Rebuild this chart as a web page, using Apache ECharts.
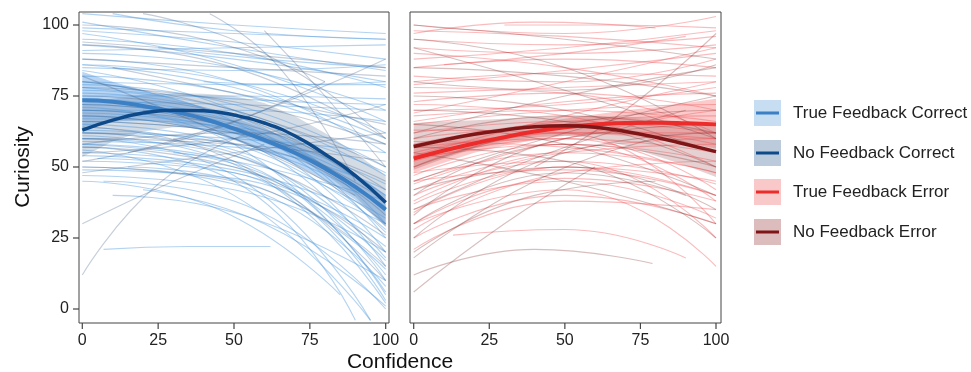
<!DOCTYPE html>
<html><head><meta charset="utf-8">
<script src="https://cdn.jsdelivr.net/npm/echarts@6/dist/echarts.min.js"></script>
<style>html,body{margin:0;padding:0;background:#fff}#c{width:971px;height:372px}</style>
</head><body><div id="c"></div>
<script>
// ---- axis ranges / ticks ----
const axisMin = 0, axisMax = 100, tickStep = 25;
const xTicks = [0, 25, 50, 75, 100];
const yTicks = [0, 25, 50, 75, 100];
const legendNames = ['True Feedback Correct', 'No Feedback Correct', 'True Feedback Error', 'No Feedback Error'];

// ---- fitted means and confidence bands (read at confidence = 0,10,...,100) ----
const bandX = [0, 10, 20, 30, 40, 50, 60, 70, 80, 90, 100];
const tfcMean = [73.5, 73, 71.5, 69.5, 67, 63.5, 59.5, 55, 49.5, 43, 35];
const tfcLo   = [64, 66, 66.5, 65.5, 63, 59.5, 55.5, 51, 45.5, 38.5, 29];
const tfcHi   = [83.5, 80, 77, 74, 71, 67.5, 63.5, 59, 53.5, 47.5, 40];
const nfcMean = [63, 66.5, 69, 70, 69.8, 68.3, 65.5, 61, 54.5, 47, 37.5];
const nfcLo   = [53.5, 59, 62.5, 64, 64, 62, 58.5, 54, 47.5, 39.5, 29];
const nfcHi   = [72.5, 74, 75.5, 76, 75.8, 75, 72.5, 68, 62, 55, 47];
const tfeMean = [53, 55.8, 58.3, 60.5, 62.5, 64, 65, 65.5, 65.6, 65.4, 65];
const tfeLo   = [48, 51.5, 55, 57.5, 59.5, 61, 61.5, 61, 60, 58.5, 56.5];
const tfeHi   = [58, 60, 62, 63.5, 65.5, 67, 68.5, 70, 71, 72.5, 74];
const nfeMean = [57.2, 59.5, 61.5, 63, 64.2, 64.5, 64, 62.5, 60.5, 58, 55.4];
const nfeLo   = [49, 53, 56.5, 59, 60.5, 61, 60, 57.5, 54, 50.5, 46.5];
const nfeHi   = [65.5, 66, 66.5, 67, 67.5, 68, 68, 67.5, 67, 65.5, 64];

// ---- individual participant curves: [x0,y0, x1,y1, x2,y2] ----
const tfcLines = [
[0,104,50,100,100,97],[0,99,50,97,100,95],[0,98,50,94,100,88],[0,93,50,88,100,80],[0,90,50,85,100,70],
[0,86,50,80,100,62],[0,80,50,79,100,79],[0,78,50,74,100,72],[0,84,50,70,100,40],[0,79,50,72,100,50],
[0,76,50,68,100,30],[0,74,50,66,100,25],[0,72,50,65,100,35],[0,70,50,62,100,20],[0,68,50,60,100,15],
[0,66,50,62,100,40],[0,65,50,58,100,28],[0,62,50,55,100,10],[0,60,50,54,100,18],[0,58,50,52,100,5],
[0,55,50,50,100,12],[0,52,50,48,100,3],[0,50,50,44,100,8],[0,49,50,46,100,22],[7,45,50,38,100,0],
[0,56,50,40,95,-4],[20,42,60,30,100,1],[7,21,35,22,62,22],[0,88,50,80,100,55],[0,95,50,90,100,78],
[0,101,50,92,100,84],[10,104,50,98,100,95],[0,75,50,75,100,74],[0,73,50,72,100,70],[0,62,50,60,100,55],
[0,58,50,52,100,38],[0,64,50,56,100,32],[5,53,50,48,100,25],[0,45,45,35,85,5],[15,50,55,44,100,14],
[0,69,50,63,100,44],[0,77,50,70,100,47],[25,92,60,88,100,85],[0,71,50,58,100,6],[0,60,50,47,95,-4],
[30,55,65,45,100,17],[0,86,50,78,100,60],[0,97,50,86,100,66],[0,80,50,66,100,27],[0,67,50,64,100,48],
[0,63,50,58,100,36],[0,54,50,49,100,30],[0,59,50,57,100,42],[0,82,50,76,100,58],[0,91,50,92,100,93],
[0,70,50,70,100,66],[0,61,50,51,100,2],[0,57,50,45,90,-4],[10,40,50,34,100,10],[0,47,50,42,100,20],
[40,80,70,79,100,80],[0,85,50,84,100,86]
];
const nfcLines = [
[0,12,25,44,55,62],[0,30,30,45,60,58],[0,93,50,85,100,60],[0,100,40,95,80,80],[20,104,60,90,100,60],
[42,104,65,85,90,45],[0,66,50,62,100,45],[0,60,50,58,100,52],[0,55,50,60,100,72],[0,52,40,62,80,80],
[0,70,50,64,100,35],[0,75,50,68,100,38],[0,64,50,52,100,10],[0,57,50,50,100,20],[0,88,50,85,100,82],
[10,85,55,75,100,65],[0,48,50,55,100,62],[60,98,80,75,100,50],[0,80,50,70,100,50],[0,62,50,54,100,26],
[0,68,50,60,100,30],[20,70,60,60,100,38],[0,82,50,60,90,40],[0,94,50,90,100,85],[0,58,50,62,100,58],
[15,55,55,68,100,88],[0,72,50,66,100,42],[0,50,50,45,100,15],[30,60,65,55,100,33],[0,78,50,73,100,58]
];
const tfeLines = [
[0,100,50,97,100,103],[0,97,40,101,80,99],[0,95,50,93,100,96],[0,92,50,90,100,93],[0,88,50,92,100,98],
[0,85,50,88,100,85],[0,82,50,80,100,88],[0,79,50,84,100,90],[0,76,50,78,100,80],[0,73,50,76,100,70],
[0,70,50,72,100,78],[0,68,50,70,100,66],[0,65,50,70,100,72],[0,62,50,66,100,62],[0,60,50,64,100,58],
[0,58,50,66,100,68],[0,55,50,62,100,60],[0,52,50,60,100,55],[0,50,50,62,100,62],[0,47,50,58,100,52],
[0,45,50,55,100,48],[0,42,50,56,100,60],[0,40,50,52,100,44],[0,37,50,50,100,45],[0,34,50,50,100,40],
[0,30,50,46,100,38],[0,28,50,48,100,52],[0,25,50,40,100,30],[0,21,50,38,100,35],[13,26,50,28,90,18],
[0,30,50,42,100,15],[0,90,50,85,100,75],[0,80,50,83,100,82],[0,72,50,68,100,50],[0,63,50,62,100,30],
[0,57,50,60,100,42],[0,44,50,60,100,70],[0,38,50,55,100,58],[10,86,50,90,90,96],[30,100,65,100,100,99],
[0,98,50,96,100,92],[0,53,50,58,100,38],[0,48,50,52,100,25],[0,35,50,45,100,32],[0,66,50,73,100,76],
[0,78,50,76,100,62],[0,59,50,57,100,48],[0,45,50,49,100,40],[0,69,50,80,100,92],[0,54,50,68,100,80]
];
const nfeLines = [
[0,12,40,21,79,16],[0,6,30,30,60,50],[0,18,40,45,80,60],[0,25,50,55,100,62],[0,33,50,60,100,65],
[0,40,50,58,100,50],[0,95,50,85,100,60],[0,92,50,77,100,60],[0,85,50,82,100,75],[0,70,50,66,100,50],
[0,60,50,68,100,62],[0,50,50,65,100,70],[0,45,50,62,100,75],[40,50,70,70,100,97],[0,57,50,52,100,25],
[0,65,50,58,100,40],[0,75,50,70,100,55],[0,80,50,77,100,86],[0,30,50,48,90,40],[0,55,50,45,100,30],
[0,62,50,75,100,85],[0,20,40,40,80,45],[0,100,50,95,100,88],[0,42,50,50,100,35],[0,35,45,55,90,70]
];

const FONT = 'Liberation Sans, Arial, sans-serif';
const chart = echarts.init(document.getElementById('c'), null, {renderer: 'canvas'});

const C = {
  tfcThin: 'rgba(75,150,220,0.42)', nfcThin: 'rgba(60,90,130,0.30)',
  tfeThin: 'rgba(238,70,75,0.36)', nfeThin: 'rgba(125,40,40,0.30)',
  tfcBand: 'rgba(100,165,230,0.45)', nfcBand: 'rgba(85,115,155,0.26)',
  tfeBand: 'rgba(245,80,80,0.30)', nfeBand: 'rgba(150,70,70,0.25)',
  tfc: '#3b7fc4', nfc: '#0e4a8a', tfe: '#ec2b2b', nfe: '#7e1517',
  tfcKey: '#c6ddf2', nfcKey: '#bccbdc', tfeKey: '#f9c8c8', nfeKey: '#dcbcbc',
  axis: '#444444'
};
const X_OFFSET = 14, Y_OFFSET = 3.3, TICK_LEN = 6;

function thin(lines, color, ax) {
  return lines.map(l => ({
    type: 'line', xAxisIndex: ax, yAxisIndex: ax, silent: true, smooth: true,
    symbol: 'none', showSymbol: false, clip: false,
    data: [[l[0], l[1]], [l[2], l[3]], [l[4], l[5]]],
    lineStyle: {color: color, width: 1.1}
  }));
}
function band(lo, hi, color, ax) {
  return {
    type: 'custom', xAxisIndex: ax, yAxisIndex: ax, silent: true,
    data: [[bandX[0], lo[0]]],
    renderItem: function (p, api) {
      const pts = [];
      for (let i = 0; i < bandX.length; i++) pts.push(api.coord([bandX[i], hi[i]]));
      for (let i = bandX.length - 1; i >= 0; i--) pts.push(api.coord([bandX[i], lo[i]]));
      return {type: 'polygon', shape: {points: pts}, style: {fill: color}};
    }
  };
}
function mean(vals, color, width, ax) {
  return {
    type: 'line', xAxisIndex: ax, yAxisIndex: ax, silent: true, smooth: true,
    symbol: 'none', showSymbol: false, clip: false,
    data: bandX.map((x, i) => [x, vals[i]]),
    lineStyle: {color: color, width: width}
  };
}
// axis tick marks, placed through the axes' scales, on the panel frame edge
function xTickSeries(ax) {
  return {
    type: 'custom', xAxisIndex: ax, yAxisIndex: ax, silent: true, clip: false,
    data: xTicks.map(v => [v, axisMin]),
    renderItem: function (p, api) {
      const pt = api.coord([api.value(0), api.value(1)]);
      const y0 = pt[1] + X_OFFSET;
      return {type: 'line', shape: {x1: pt[0], y1: y0, x2: pt[0], y2: y0 + TICK_LEN}, style: {stroke: C.axis, lineWidth: 1.2}};
    }
  };
}
function yTickSeries(ax) {
  return {
    type: 'custom', xAxisIndex: ax, yAxisIndex: ax, silent: true, clip: false,
    data: yTicks.map(v => [axisMin, v]),
    renderItem: function (p, api) {
      const pt = api.coord([api.value(0), api.value(1)]);
      const x0 = pt[0] - Y_OFFSET;
      return {type: 'line', shape: {x1: x0 - TICK_LEN, y1: pt[1], x2: x0, y2: pt[1]}, style: {stroke: C.axis, lineWidth: 1.2}};
    }
  };
}

const series = [].concat(
  thin(tfcLines, C.tfcThin, 0), thin(nfcLines, C.nfcThin, 0),
  thin(tfeLines, C.tfeThin, 1), thin(nfeLines, C.nfeThin, 1),
  [band(tfcLo, tfcHi, C.tfcBand, 0), band(nfcLo, nfcHi, C.nfcBand, 0),
   band(tfeLo, tfeHi, C.tfeBand, 1), band(nfeLo, nfeHi, C.nfeBand, 1),
   mean(tfcMean, C.tfc, 4, 0), mean(nfcMean, C.nfc, 3.5, 0),
   mean(tfeMean, C.tfe, 4, 1), mean(nfeMean, C.nfe, 3.5, 1),
   xTickSeries(0), xTickSeries(1), yTickSeries(0)]
);

// data grids (0,1) cover confidence/curiosity 0..100; frame grids (2,3) draw the panel boxes
function dataX(idx) {
  return {
    type: 'value', gridIndex: idx, min: axisMin, max: axisMax, interval: tickStep, offset: X_OFFSET,
    axisLine: {show: false, onZero: false}, splitLine: {show: false}, axisTick: {show: false},
    axisLabel: {margin: 10, fontSize: 16, color: '#222', fontFamily: FONT, showMinLabel: true, showMaxLabel: true}
  };
}
function dataY(idx, showLab) {
  return {
    type: 'value', gridIndex: idx, min: axisMin, max: axisMax, interval: tickStep, offset: Y_OFFSET,
    axisLine: {show: false, onZero: false}, splitLine: {show: false}, axisTick: {show: false},
    axisLabel: {show: showLab, margin: 10, fontSize: 16, color: '#222', fontFamily: FONT, showMinLabel: true, showMaxLabel: true},
    name: showLab ? 'Curiosity' : '', nameLocation: 'middle', nameGap: 45,
    nameTextStyle: {fontSize: 21, color: '#111', fontFamily: FONT}
  };
}
function frameAxis(idx) {
  return {type: 'value', gridIndex: idx, show: false, min: 0, max: 1};
}

const keyY = [113, 153, 192, 232];
const keyFill = [C.tfcKey, C.nfcKey, C.tfeKey, C.nfeKey];
const keyLine = [C.tfc, C.nfc, C.tfe, C.nfe];
const graphic = [];
legendNames.forEach((nm, i) => {
  graphic.push({type: 'rect', shape: {x: 754, y: keyY[i] - 13, width: 27, height: 26}, style: {fill: keyFill[i]}, silent: true});
  graphic.push({type: 'line', shape: {x1: 756, y1: keyY[i], x2: 779, y2: keyY[i]}, style: {stroke: keyLine[i], lineWidth: 3}, silent: true});
  graphic.push({type: 'text', x: 793, y: keyY[i], style: {text: nm, fontSize: 17, fontFamily: FONT, fill: '#222', align: 'left', verticalAlign: 'middle'}, silent: true});
});
graphic.push({type: 'text', x: 400, y: 362, style: {text: 'Confidence', fontSize: 21, fontFamily: FONT, fill: '#111', align: 'center', verticalAlign: 'middle'}, silent: true});

chart.setOption({
  animation: false,
  backgroundColor: '#fff',
  grid: [
    {left: 82.3, top: 25, width: 303.4, height: 284, show: false},
    {left: 413.7, top: 25, width: 302.3, height: 284, show: false},
    {left: 79, top: 12, width: 310, height: 311, show: true, borderColor: C.axis, borderWidth: 1, backgroundColor: 'transparent'},
    {left: 410, top: 12, width: 311, height: 311, show: true, borderColor: C.axis, borderWidth: 1, backgroundColor: 'transparent'}
  ],
  xAxis: [dataX(0), dataX(1), frameAxis(2), frameAxis(3)],
  yAxis: [dataY(0, true), dataY(1, false), frameAxis(2), frameAxis(3)],
  series: series,
  graphic: graphic
});
</script></body></html>
